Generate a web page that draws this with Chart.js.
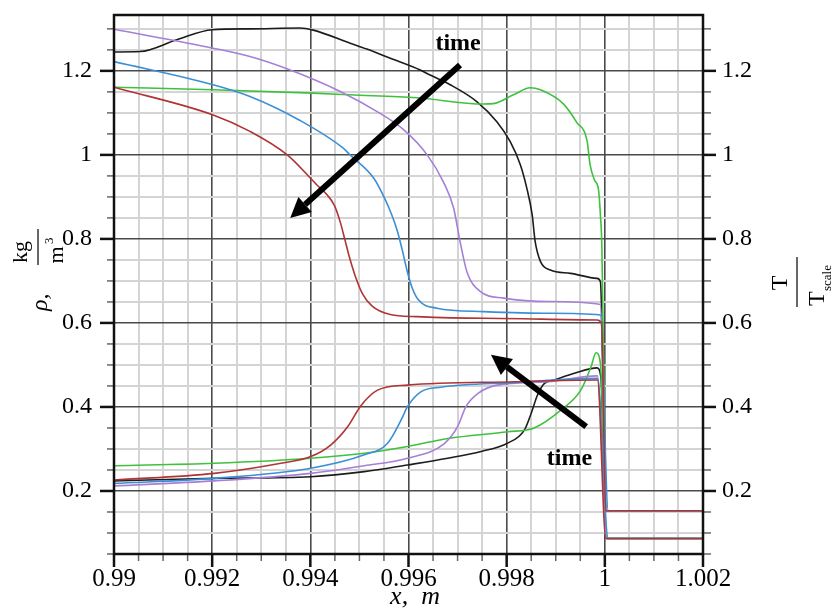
<!DOCTYPE html>
<html><head><meta charset="utf-8">
<script src="https://cdn.jsdelivr.net/npm/chart.js@4.4.0/dist/chart.umd.min.js"></script>
<style>html,body{margin:0;padding:0;background:#fff;}#wrap{width:834px;height:610px;}</style>
</head><body><div id="wrap"><canvas id="c" width="834" height="610"></canvas></div>
<script>
// ---- tick labels ----
const xTickLabels = ['0.99','0.992','0.994','0.996','0.998','1','1.002'];
const yTickLabels = ['0.2','0.4','0.6','0.8','1','1.2'];

// ---- density curves (rho) [x, value] ----
const rhoRed = [[0.99,1.161],[0.99202,1.095],[0.99277,1.056],[0.99353,1.000],[0.99413,0.929],[0.99434,0.905],[0.99449,0.880],[0.99461,0.840],[0.99470,0.800],[0.99480,0.755],[0.99492,0.710],[0.99506,0.670],[0.99526,0.640],[0.99563,0.620],[0.99617,0.615],[0.99753,0.611],[0.99984,0.607],[0.99993,0.600],[1.00002,0.153],[1.002,0.153]];
const rhoBlue = [[0.99,1.222],[0.99202,1.167],[0.99277,1.139],[0.99379,1.082],[0.99467,1.016],[0.99481,1.000],[0.99529,0.945],[0.99550,0.900],[0.99565,0.860],[0.99577,0.820],[0.99587,0.775],[0.99597,0.725],[0.99607,0.685],[0.99620,0.655],[0.99658,0.635],[0.99753,0.627],[0.99889,0.623],[0.99991,0.619],[1.00007,0.153],[1.002,0.153]];
const rhoPurple = [[0.99,1.299],[0.99202,1.254],[0.99277,1.234],[0.99359,1.202],[0.99461,1.151],[0.99536,1.103],[0.99590,1.060],[0.99638,1.000],[0.99671,0.936],[0.99692,0.873],[0.99705,0.794],[0.99719,0.722],[0.99746,0.675],[0.99794,0.659],[0.99889,0.651],[0.99991,0.644],[1.00004,0.153],[1.002,0.153]];
const rhoGreen = [[0.99,1.161],[0.99202,1.155],[0.99406,1.147],[0.99481,1.143],[0.99617,1.136],[0.99753,1.121],[0.99773,1.122],[0.99814,1.143],[0.99848,1.160],[0.99869,1.155],[0.99916,1.121],[0.99943,1.077],[0.99964,1.032],[0.99970,0.976],[0.99979,0.940],[0.99987,0.918],[0.99991,0.857],[0.99994,0.778],[0.99996,0.619],[1.00004,0.153],[1.002,0.153]];
const rhoBlack = [[0.99,1.245],[0.99053,1.246],[0.99128,1.274],[0.99200,1.298],[0.99277,1.300],[0.99379,1.302],[0.99406,1.297],[0.99481,1.266],[0.99515,1.252],[0.99563,1.230],[0.99624,1.202],[0.99644,1.190],[0.99685,1.167],[0.99739,1.127],[0.99780,1.079],[0.99807,1.032],[0.99828,0.976],[0.99841,0.921],[0.99852,0.857],[0.99858,0.794],[0.99869,0.746],[0.99889,0.726],[0.99930,0.718],[0.99984,0.706],[0.99991,0.698],[1.00003,0.153],[1.002,0.153]];

// ---- temperature curves (T / T_scale) [x, value] ----
const tRed = [[0.99,0.226],[0.99204,0.242],[0.99340,0.266],[0.99401,0.282],[0.99442,0.310],[0.99476,0.353],[0.99503,0.403],[0.99537,0.440],[0.99598,0.452],[0.99816,0.460],[0.99985,0.464],[1.00002,0.087],[1.002,0.087]];
const tBlue = [[0.99,0.218],[0.99204,0.230],[0.99401,0.254],[0.99510,0.286],[0.99557,0.313],[0.99585,0.369],[0.99598,0.401],[0.99625,0.436],[0.99666,0.447],[0.99816,0.458],[0.99985,0.468],[1.00007,0.087],[1.002,0.087]];
const tPurple = [[0.99,0.212],[0.99204,0.224],[0.99401,0.242],[0.99510,0.260],[0.99598,0.278],[0.99673,0.313],[0.99700,0.353],[0.99717,0.401],[0.99741,0.432],[0.99781,0.452],[0.99883,0.460],[0.99985,0.474],[1.00004,0.087],[1.002,0.087]];
const tGreen = [[0.99,0.260],[0.99204,0.266],[0.99401,0.278],[0.99510,0.290],[0.99598,0.306],[0.99680,0.325],[0.99802,0.341],[0.99856,0.350],[0.99911,0.393],[0.99951,0.440],[0.99972,0.496],[0.99982,0.529],[0.99991,0.504],[1.00004,0.087],[1.002,0.087]];
const tBlack = [[0.99,0.224],[0.99204,0.230],[0.99401,0.234],[0.99510,0.246],[0.99598,0.262],[0.99680,0.278],[0.99748,0.294],[0.99802,0.314],[0.99836,0.345],[0.99850,0.385],[0.99863,0.429],[0.99877,0.456],[0.99897,0.464],[0.99938,0.480],[0.99984,0.493],[0.99992,0.470],[1.00003,0.087],[1.002,0.087]];

// ---- annotations (data coordinates) ----
const arrowUpper = {from:[0.99705,1.214], to:[0.99359,0.850]};
const arrowLower = {from:[0.99962,0.353], to:[0.99768,0.524]};
const timeLabelUpper = [0.99701,1.250];
const timeLabelLower = [0.99928,0.262];

const FONT = '"Liberation Serif", "Times New Roman", serif';
const colors = {red:'#b03434', blue:'#3b8fd6', purple:'#a67fd8', green:'#3ec23e', black:'#1c1c1c'};

function toXY(arr){ return arr.map(p=>({x:p[0], y:p[1]})); }
function isMajorX(v){ return Math.round(v/0.0005) % 4 === 0; }
function isMajorY(v){ return Math.round(v/0.05) % 4 === 0; }
function xLabel(v){ if(!isMajorX(v)) return ''; const i=Math.round((v-0.99)/0.002); return xTickLabels[i] ?? ''; }
function yLabel(v){ if(!isMajorY(v)) return ''; const i=Math.round(v/0.2)-1; return yTickLabels[i] ?? ''; }

function ds(data, color){
  return {data: toXY(data), borderColor: color, borderWidth: 1.6, pointRadius: 0, fill: false, cubicInterpolationMode: 'monotone'};
}
function noPad(s){ s.paddingTop = 0; s.paddingBottom = 0; s.paddingLeft = 0; s.paddingRight = 0; }

const deco = {
  id: 'deco',
  afterDraw(chart){
    const {ctx, chartArea: a, scales} = chart;
    const X = scales.x, Y = scales.y;
    const px = p => [X.getPixelForValue(p[0]), Y.getPixelForValue(p[1])];
    ctx.save();
    const line = (x1,y1,x2,y2)=>{ctx.beginPath();ctx.moveTo(x1,y1);ctx.lineTo(x2,y2);ctx.stroke();};
    // tick marks
    X.ticks.forEach(t=>{
      const p = X.getPixelForValue(t.value), m = isMajorX(t.value);
      ctx.strokeStyle = m ? '#111' : '#666'; ctx.lineWidth = m ? 2.5 : 1.5;
      line(p, a.bottom, p, a.bottom + (m ? 13 : 7));
    });
    Y.ticks.forEach(t=>{
      const p = Y.getPixelForValue(t.value), m = isMajorY(t.value);
      ctx.strokeStyle = m ? '#111' : '#666'; ctx.lineWidth = m ? 2.5 : 1.5;
      line(a.left - (m ? 14 : 7), p, a.left, p);
      line(a.right, p, a.right + (m ? 13 : 8), p);
    });
    // frame
    ctx.strokeStyle = '#111'; ctx.lineWidth = 2.5;
    ctx.strokeRect(a.left, a.top, a.right - a.left, a.bottom - a.top);

    // arrows
    function arrow(spec){
      const [x1,y1] = px(spec.from), [x2,y2] = px(spec.to);
      const ang = Math.atan2(y2-y1, x2-x1), L = 20, W = 10;
      const bx = x2 - L*Math.cos(ang), by = y2 - L*Math.sin(ang);
      ctx.strokeStyle = '#000'; ctx.lineWidth = 6; ctx.lineCap = 'butt';
      line(x1, y1, bx, by);
      ctx.fillStyle = '#000';
      ctx.beginPath();
      ctx.moveTo(x2, y2);
      ctx.lineTo(bx + W*Math.sin(ang), by - W*Math.cos(ang));
      ctx.lineTo(bx - W*Math.sin(ang), by + W*Math.cos(ang));
      ctx.closePath(); ctx.fill();
    }
    arrow(arrowUpper); arrow(arrowLower);
    ctx.fillStyle = '#000';
    ctx.font = 'bold 24px ' + FONT; ctx.textAlign = 'center'; ctx.textBaseline = 'alphabetic';
    let p = px(timeLabelUpper); ctx.fillText('time', p[0], p[1]);
    p = px(timeLabelLower); ctx.fillText('time', p[0], p[1]);

    // x axis title
    ctx.font = 'italic 26px ' + FONT; ctx.textAlign = 'center';
    ctx.fillText('x,  m', 415, 604);

    // left axis title (rotated)
    ctx.save();
    ctx.translate(38, 265); ctx.rotate(-Math.PI/2);
    ctx.textBaseline = 'alphabetic';
    ctx.font = 'italic 24px ' + FONT; ctx.textAlign = 'left';
    ctx.fillText('ρ,', -46, 9);
    ctx.lineWidth = 1.2; ctx.strokeStyle = '#000'; line(0, 0, 36, 0);
    ctx.font = '22px ' + FONT; ctx.textAlign = 'center';
    ctx.fillText('kg', 13, -11);
    ctx.fillText('m', 10, 25);
    ctx.font = '13px ' + FONT; ctx.textAlign = 'left';
    ctx.fillText('3', 21, 15);
    ctx.restore();

    // right axis title (rotated)
    ctx.save();
    ctx.translate(797, 307); ctx.rotate(-Math.PI/2);
    ctx.textBaseline = 'alphabetic';
    ctx.font = '24px ' + FONT; ctx.textAlign = 'center';
    ctx.fillText('T', 24, -10);
    ctx.lineWidth = 1.2; ctx.strokeStyle = '#000'; line(0, 0, 50, 0);
    ctx.textAlign = 'left';
    ctx.fillText('T', 1, 27);
    ctx.font = '13px ' + FONT;
    ctx.fillText('scale', 16, 34);
    ctx.restore();

    ctx.restore();
  }
};

new Chart(document.getElementById('c'), {
  type: 'line',
  data: { datasets: [
    ds(rhoRed, colors.red), ds(tRed, colors.red),
    ds(rhoBlue, colors.blue), ds(tBlue, colors.blue),
    ds(rhoPurple, colors.purple), ds(tPurple, colors.purple),
    ds(rhoGreen, colors.green), ds(tGreen, colors.green),
    ds(rhoBlack, colors.black), ds(tBlack, colors.black)
  ]},
  options: {
    responsive: false, animation: false,
    layout: { padding: { top: 15, left: 0, right: 0, bottom: 0 } },
    plugins: { legend: { display: false }, tooltip: { enabled: false } },
    scales: {
      x: {
        type: 'linear', position: 'bottom', min: 0.99, max: 1.002,
        ticks: { stepSize: 0.0005, autoSkip: false, maxRotation: 0, includeBounds: false,
                 callback: v => xLabel(v), color: '#000', padding: 10,
                 font: { family: FONT, size: 25 } },
        grid: { drawTicks: false,
                color: c => isMajorX(c.tick.value) ? '#4a4a4a' : '#d4d4d4',
                lineWidth: c => isMajorX(c.tick.value) ? 1.6 : 2 },
        border: { display: false },
        afterFit: s => { s.height = 56; noPad(s); }
      },
      y: {
        type: 'linear', position: 'left', min: 0.05, max: 1.333,
        ticks: { stepSize: 0.05, autoSkip: false, includeBounds: false,
                 callback: v => yLabel(v), color: '#000', padding: 22,
                 font: { family: FONT, size: 24 } },
        grid: { drawTicks: false,
                color: c => isMajorY(c.tick.value) ? '#4a4a4a' : '#d4d4d4',
                lineWidth: c => isMajorY(c.tick.value) ? 1.6 : 2 },
        border: { display: false },
        afterFit: s => { s.width = 114; noPad(s); }
      },
      y2: {
        type: 'linear', position: 'right', min: 0.05, max: 1.333,
        ticks: { stepSize: 0.05, autoSkip: false, includeBounds: false,
                 callback: v => yLabel(v), color: '#000', padding: 19,
                 font: { family: FONT, size: 24 } },
        grid: { drawTicks: false, drawOnChartArea: false },
        border: { display: false },
        afterFit: s => { s.width = 131; noPad(s); }
      }
    }
  },
  plugins: [deco]
});
</script>
</body></html>
